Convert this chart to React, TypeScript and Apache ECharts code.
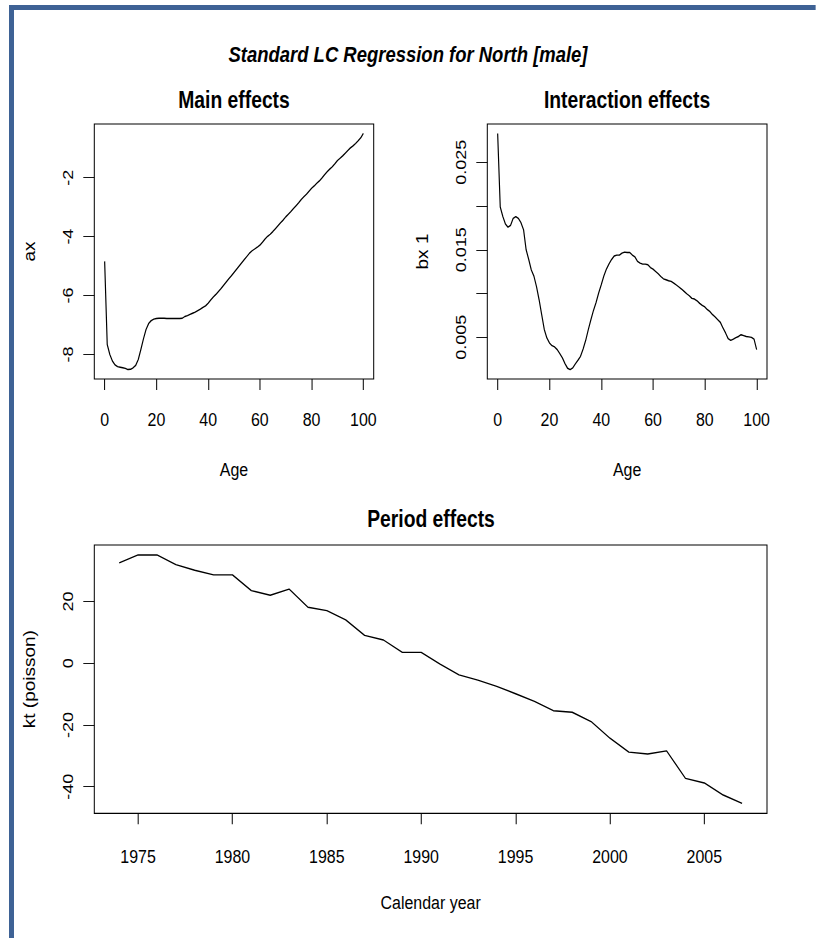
import React, { useEffect, useRef } from "react";
import * as echarts from "echarts";

// ---------- data ----------
const ages: number[] = Array.from({ length: 101 }, (_, i) => i);

const ax: number[] = [
  -4.84, -7.66, -8.0, -8.22, -8.35, -8.41, -8.43, -8.45, -8.47, -8.51,
  -8.5, -8.45, -8.37, -8.17, -7.83, -7.47, -7.15, -6.95, -6.85, -6.8,
  -6.78, -6.77, -6.77, -6.77, -6.78, -6.78, -6.78, -6.78, -6.78, -6.78,
  -6.77, -6.71, -6.68, -6.64, -6.6, -6.56, -6.51, -6.46, -6.4, -6.35,
  -6.26, -6.15, -6.05, -5.96, -5.86, -5.76, -5.65, -5.54, -5.43, -5.33,
  -5.22, -5.11, -5.0, -4.89, -4.78, -4.67, -4.56, -4.48, -4.42, -4.36,
  -4.29, -4.19, -4.08, -3.99, -3.92, -3.83, -3.73, -3.63, -3.53, -3.44,
  -3.33, -3.24, -3.15, -3.05, -2.95, -2.85, -2.74, -2.65, -2.56, -2.46,
  -2.36, -2.28, -2.19, -2.11, -2.01, -1.9, -1.8, -1.71, -1.63, -1.53,
  -1.42, -1.34, -1.26, -1.17, -1.08, -0.99, -0.92, -0.84, -0.75, -0.65,
  -0.5,
];

const bx: number[] = [
  0.0283, 0.0199, 0.0188, 0.01796, 0.01759, 0.0178, 0.0186, 0.0188, 0.0186, 0.0181,
  0.0173, 0.015, 0.0139, 0.0127, 0.012, 0.0108, 0.0093, 0.0076, 0.0059, 0.00493,
  0.00436, 0.00405, 0.0039, 0.0036, 0.00314, 0.00265, 0.002, 0.00147, 0.00132, 0.00151,
  0.00197, 0.00238, 0.00283, 0.00368, 0.00466, 0.00588, 0.00702, 0.00808, 0.00899, 0.01006,
  0.011, 0.012, 0.0128, 0.0134, 0.0139, 0.0143, 0.0144, 0.0144, 0.01462, 0.01474,
  0.0147, 0.0147, 0.0144, 0.0142, 0.01367, 0.01349, 0.01337, 0.01337, 0.01329, 0.01298,
  0.0128, 0.01253, 0.01226, 0.01196, 0.01169, 0.01158, 0.01147, 0.01139, 0.0112, 0.01098,
  0.01075, 0.01052, 0.01025, 0.00998, 0.00975, 0.00945, 0.00938, 0.00918, 0.00888, 0.00865,
  0.00847, 0.00816, 0.00793, 0.00759, 0.00733, 0.00702, 0.00671, 0.00607, 0.0055, 0.00485,
  0.00466, 0.0048, 0.00497, 0.0051, 0.0053, 0.0052, 0.0051, 0.00505, 0.005, 0.0048,
  0.0036,
];

const years: number[] = [
  1974, 1975, 1976, 1977, 1978, 1979, 1980, 1981, 1982, 1983, 1984, 1985,
  1986, 1987, 1988, 1989, 1990, 1991, 1992, 1993, 1994, 1995, 1996, 1997,
  1998, 1999, 2000, 2001, 2002, 2003, 2004, 2005, 2006, 2007,
];

const kt: number[] = [
  32.5, 35.05, 35.05, 31.9, 30.1, 28.6, 28.6, 23.5, 22.0, 24.0, 18.1, 17.0,
  14.0, 9.0, 7.5, 3.5, 3.5, -0.3, -3.8, -5.5, -7.5, -9.9, -12.4, -15.4,
  -15.9, -18.9, -24.3, -28.8, -29.4, -28.4, -37.3, -38.8, -42.7, -45.4,
];

const ageTicks: number[] = [0, 20, 40, 60, 80, 100];
const axTicks: number[] = [-8, -6, -4, -2];
const bxTicks: number[] = [0.005, 0.01, 0.015, 0.02, 0.025];
const bxLabels: number[] = [0.005, 0.015, 0.025];
const yearTicks: number[] = [1975, 1980, 1985, 1990, 1995, 2000, 2005];
const ktTicks: number[] = [-40, -20, 0, 20];

const mainTitle = "Standard LC Regression for North [male]";
const panelTitles = ["Main effects", "Interaction effects", "Period effects"];

// ---------- layout helpers ----------
// The reference is horizontally condensed; draw in a wider space and squeeze with CSS.
const S = 0.84;
const W = 816;
const H = 938;
const X = (px: number) => px / S;
const FONT = "'Liberation Sans', Arial, Helvetica, sans-serif";

function rRange(vals: number[]) {
  const lo = Math.min(...vals);
  const hi = Math.max(...vals);
  const d = (hi - lo) * 0.04;
  return { min: lo - d, max: hi + d };
}

function xAxisDef(grid: number, vals: number[], ticks: number[], name: string, margin: number, nameGap: number) {
  const r = rRange(vals);
  return {
    type: "value",
    gridIndex: grid,
    min: r.min,
    max: r.max,
    name,
    nameLocation: "middle",
    nameGap,
    nameTextStyle: { fontFamily: FONT, fontSize: 19, color: "#000" },
    axisLine: { show: false, onZero: false },
    splitLine: { show: false },
    axisTick: { show: true, length: 11, customValues: ticks, lineStyle: { color: "#000", width: 1.2 } },
    axisLabel: {
      customValues: ticks,
      fontFamily: FONT,
      fontSize: 19,
      color: "#000",
      margin,
      formatter: (v: number) => String(v),
    },
  };
}

function yAxisDef(grid: number, vals: number[], ticks: number[], labels: number[], name: string) {
  const r = rRange(vals);
  return {
    type: "value",
    gridIndex: grid,
    min: r.min,
    max: r.max,
    name,
    nameLocation: "middle",
    nameGap: X(57),
    nameRotate: 90,
    nameTextStyle: { fontFamily: FONT, fontSize: 19, color: "#000" },
    axisLine: { show: false, onZero: false },
    splitLine: { show: false },
    axisTick: { show: true, length: X(11), customValues: ticks, lineStyle: { color: "#000", width: 1 } },
    axisLabel: {
      customValues: labels,
      rotate: 90,
      fontFamily: FONT,
      fontSize: 18,
      color: "#000",
      margin: X(19),
      formatter: (v: number) => String(v),
    },
  };
}

export default function App() {
  const ref = useRef<HTMLDivElement>(null);

  useEffect(() => {
    if (!ref.current) return;
    document.body.style.overflow = "hidden";
    const chart = echarts.init(ref.current, null, { renderer: "svg" });
    const gridStyle = { show: true, borderColor: "#000", borderWidth: 1.2, backgroundColor: "transparent" };
    const lineStyle = { color: "#000", width: 1.4 };
    const titleStyle = { fontFamily: FONT, fontSize: 23, fontWeight: "bold", color: "#000" };

    const option: any = {
      animation: false,
      backgroundColor: "#fff",
      title: [
        { text: mainTitle, left: X(408), top: 43, textAlign: "center", padding: 0,
          textStyle: { ...titleStyle, fontSize: 22, fontStyle: "italic" } },
        { text: panelTitles[0], left: X(234), top: 88, textAlign: "center", padding: 0, textStyle: titleStyle },
        { text: panelTitles[1], left: X(627), top: 88, textAlign: "center", padding: 0, textStyle: titleStyle },
        { text: panelTitles[2], left: X(431), top: 507, textAlign: "center", padding: 0, textStyle: titleStyle },
      ],
      grid: [
        { left: X(94.3), top: 124, width: X(279.4), height: 255, ...gridStyle },
        { left: X(487.3), top: 124, width: X(279.7), height: 255, ...gridStyle },
        { left: X(94.3), top: 545, width: X(672.7), height: 268.3, ...gridStyle },
      ],
      xAxis: [
        xAxisDef(0, ages, ageTicks, "Age", 31, 81),
        xAxisDef(1, ages, ageTicks, "Age", 31, 81),
        xAxisDef(2, years, yearTicks, "Calendar year", 34, 80),
      ],
      yAxis: [
        yAxisDef(0, ax, axTicks, axTicks, "ax"),
        yAxisDef(1, bx, bxTicks, bxLabels, "bx 1"),
        yAxisDef(2, kt, ktTicks, ktTicks, "kt (poisson)"),
      ],
      series: [
        { type: "line", xAxisIndex: 0, yAxisIndex: 0, showSymbol: false, lineStyle,
          data: ages.map((a, i) => [a, ax[i]]) },
        { type: "line", xAxisIndex: 1, yAxisIndex: 1, showSymbol: false, lineStyle,
          data: ages.map((a, i) => [a, bx[i]]) },
        { type: "line", xAxisIndex: 2, yAxisIndex: 2, showSymbol: false, lineStyle,
          data: years.map((y, i) => [y, kt[i]]) },
      ],
      graphic: [
        { type: "rect", shape: { x: X(9), y: 5, width: X(W), height: 5 }, style: { fill: "#3e6295" }, silent: true },
        { type: "rect", shape: { x: X(9), y: 5, width: X(5), height: H }, style: { fill: "#3e6295" }, silent: true },
      ],
    };
    chart.setOption(option);
    return () => {
      chart.dispose();
    };
  }, []);

  return (
    <div
      ref={ref}
      style={{
        position: "fixed",
        left: 0,
        top: 0,
        width: X(W),
        height: H,
        background: "#fff",
        transform: `scaleX(${S})`,
        transformOrigin: "0 0",
      }}
    />
  );
}
